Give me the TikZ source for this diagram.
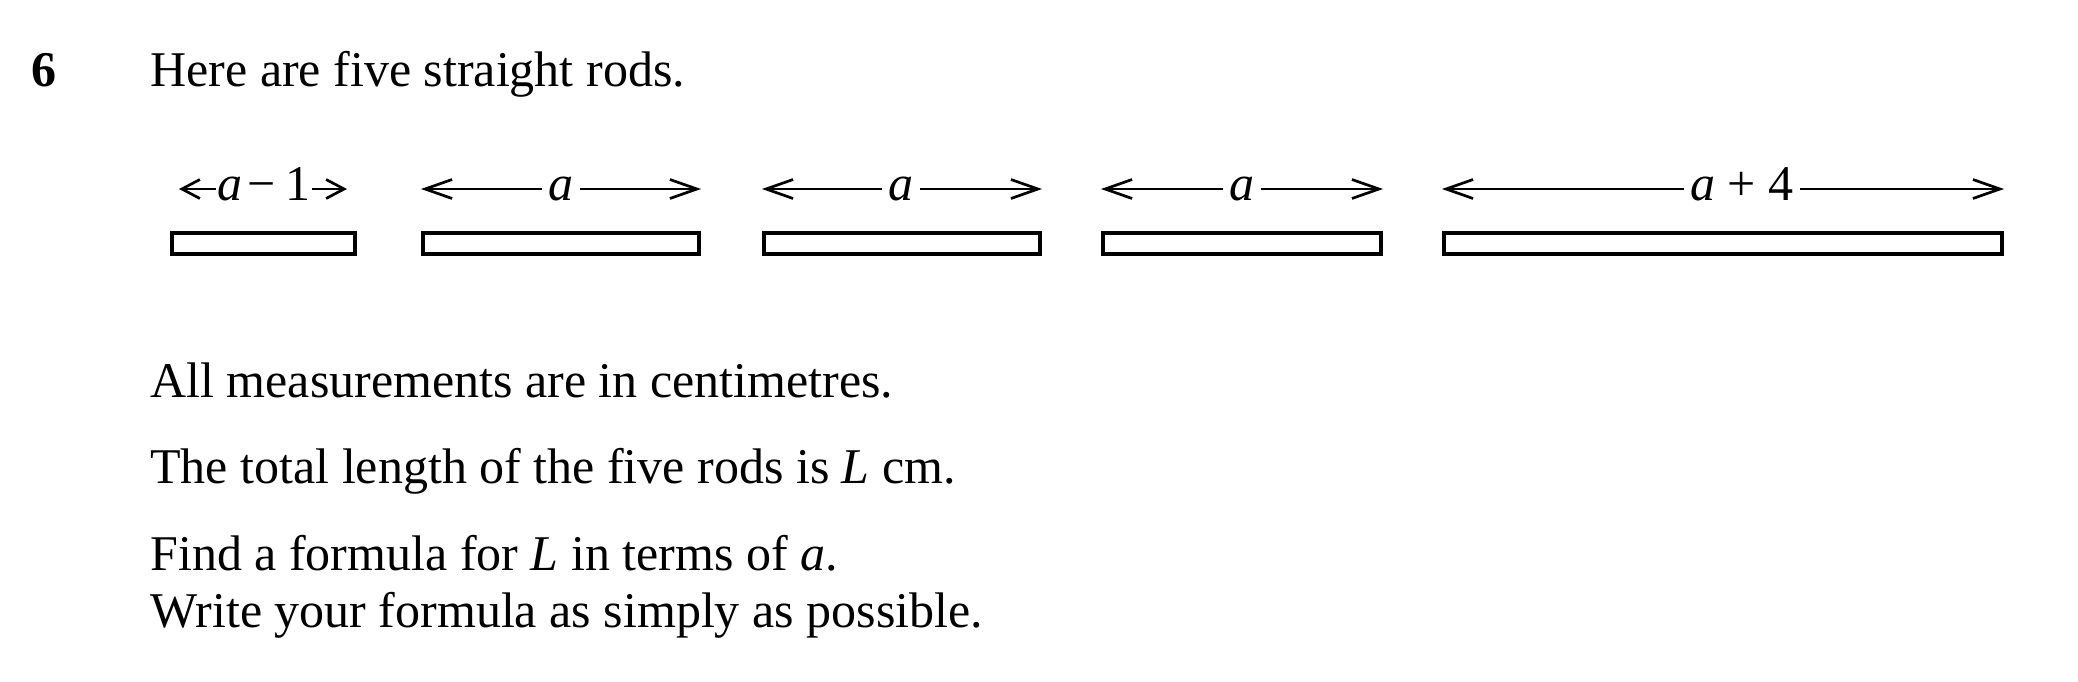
\documentclass[tikz,border=0pt]{standalone}
\usepackage{fontspec}
\setmainfont{Liberation Serif}
\usetikzlibrary{arrows.meta}
\begin{document}
\begin{tikzpicture}[x=0.5pt,y=-0.5pt,
  txt/.style={anchor=base west, inner sep=0pt, font=\fontsize{25pt}{28pt}\selectfont},
  numtxt/.style={anchor=base west, inner sep=0pt, font=\fontsize{25pt}{28pt}\selectfont\bfseries},
  rod/.style={draw=black, line width=2pt, rectangle, inner sep=0pt, minimum height=10.5pt},
  dimline/.style={line width=1.35pt, {Straight Barb[length=13.5pt,width=9.5pt]}-{Straight Barb[length=13.5pt,width=9.5pt]}},
  shortdim/.style={line width=1.35pt, {Straight Barb[length=9pt,width=9.5pt]}-{Straight Barb[length=9pt,width=9.5pt]}},
  dimlab/.style={anchor=base, fill=white, inner xsep=3.2pt, inner ysep=1pt, font=\fontsize{25pt}{28pt}\selectfont}
]
\useasboundingbox (0,0) rectangle (2078,681);
\fill[white] (0,0) rectangle (2078,681);

% heading
\node[numtxt] (num) at (31.5,86) {6};
\node[txt] (l1) at (150,86) {Here are five straight rods.};

% rods
\node[rod, minimum width=91.5pt] (r1) at (263.5,243) {};
\node[rod, minimum width=138pt] (r2) at (561,243) {};
\node[rod, minimum width=138pt] (r3) at (902,243) {};
\node[rod, minimum width=139pt] (r4) at (1242,243) {};
\node[rod, minimum width=279pt] (r5) at (1723,243) {};

% dimension arrow end points
\coordinate (d1l) at (179,189);  \coordinate (d1r) at (347,189);
\coordinate (d2l) at (421,189);  \coordinate (d2r) at (701,189);
\coordinate (d3l) at (762,189);  \coordinate (d3r) at (1042,189);
\coordinate (d4l) at (1101,189); \coordinate (d4r) at (1383,189);
\coordinate (d5l) at (1442,189); \coordinate (d5r) at (2004,189);

\draw[shortdim] (d1l) -- (d1r);
\draw[dimline] (d2l) -- (d2r);
\draw[dimline] (d3l) -- (d3r);
\draw[dimline] (d4l) -- (d4r);
\draw[dimline] (d5l) -- (d5r);

% dimension labels
\node[dimlab, inner xsep=1pt] (t1) at (264,200) {\textit{a}\kern2.5pt−\kern4.5pt1};
\node[dimlab] (t2) at (561,200) {\textit{a}};
\node[dimlab] (t3) at (901,200) {\textit{a}};
\node[dimlab] (t4) at (1242,200) {\textit{a}};
\node[dimlab] (t5) at (1742,200) {\textit{a} + 4};

% body text
\node[txt] (l2) at (150,397) {All measurements are in centimetres.};
\node[txt] (l3) at (150,483.5) {The total length of the five rods is \textit{L} cm.};
\node[txt] (l4) at (150,570) {Find a formula for \textit{L} in terms of \textit{a}.};
\node[txt] (l5) at (150,627) {Write your formula as simply as possible.};
\end{tikzpicture}
\end{document}
